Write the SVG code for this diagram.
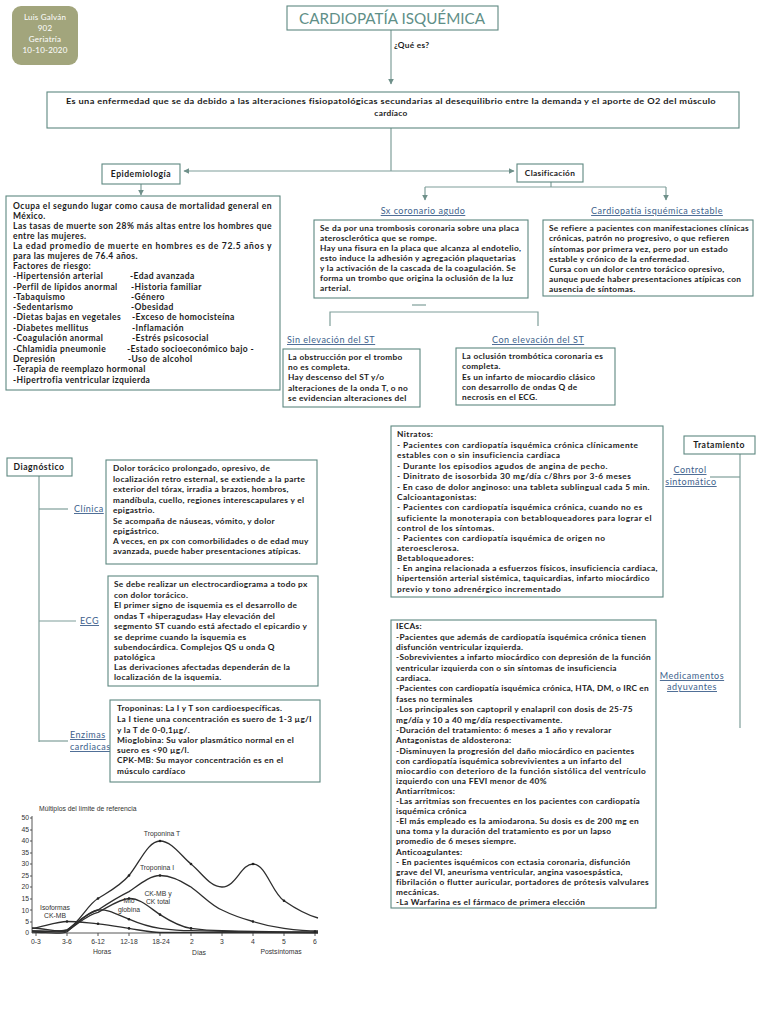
<svg xmlns="http://www.w3.org/2000/svg" width="768" height="1024" viewBox="0 0 768 1024">
<defs>
<style>
.box{fill:#fff;stroke:#5d8880;stroke-width:1.1}
.t{font-family:Lato,"Open Sans",sans-serif;font-size:8.3px;font-weight:700;fill:#1c1c1c;letter-spacing:0.3px}
.n{letter-spacing:0.45px}
.h{font-family:Lato,"Open Sans",sans-serif;font-size:8.5px;font-weight:700;fill:#1c1c1c;letter-spacing:0.4px}
.hd{font-family:Lato,"Open Sans",sans-serif;font-size:8.6px;font-weight:700;fill:#1c1c1c;letter-spacing:0.5px}
.lnk{font-family:Lato,"Open Sans",sans-serif;font-size:9px;font-weight:400;fill:#3d5f8c;text-decoration:underline;letter-spacing:0.5px}
.conn{stroke:#7f9e99;stroke-width:1.2;fill:none}
.ax{stroke:#444;stroke-width:0.9;fill:none}
.cv{stroke:#2e2e2e;stroke-width:1.3;fill:none}
.ct{font-family:"Liberation Sans",Arial,sans-serif;font-size:6.8px;fill:#333}
.w{font-family:Lato,"Open Sans",sans-serif;font-size:8px;fill:#fff;text-anchor:middle;letter-spacing:0.2px}
</style>
<marker id="arr" viewBox="0 0 10 10" refX="9" refY="5" markerWidth="5" markerHeight="5" orient="auto-start-reverse"><path d="M0,0 L10,5 L0,10 z" fill="#6f908a"/></marker>
</defs>
<rect width="768" height="1024" fill="#fff"/>

<g id="connectors">
<line class="conn" x1="391" y1="30" x2="391" y2="84" marker-end="url(#arr)"/>
<line class="conn" x1="391" y1="128" x2="391" y2="171"/>
<line class="conn" x1="184" y1="171" x2="514" y2="171" marker-start="url(#arr)" marker-end="url(#arr)"/>
<line class="conn" x1="141" y1="184" x2="141" y2="195" marker-end="url(#arr)"/>
<polyline class="conn" points="551,182 551,187"/>
<line class="conn" x1="425" y1="187" x2="666" y2="187"/>
<line class="conn" x1="425" y1="187" x2="425" y2="200" marker-end="url(#arr)"/>
<line class="conn" x1="666" y1="187" x2="666" y2="200" marker-end="url(#arr)"/>
<line class="conn" x1="412" y1="305" x2="426" y2="305"/>
<polyline class="conn" points="330,326 330,312 538,312 538,326"/>
<line class="conn" x1="39" y1="476" x2="39" y2="742"/>
<line class="conn" x1="39" y1="509" x2="68" y2="509"/>
<line class="conn" x1="39" y1="621" x2="76" y2="621"/>
<line class="conn" x1="39" y1="741" x2="68" y2="741"/>
<line class="conn" x1="740" y1="454" x2="740" y2="728"/>
<line class="conn" x1="710" y1="477" x2="740" y2="477"/>
</g>

<g id="autor">
<rect x="12" y="6" width="66" height="59" rx="9" fill="#a2a57c"/>
<text class="w" x="45" y="20">Luis Galván</text>
<text class="w" x="45" y="31">902</text>
<text class="w" x="45" y="42">Geriatría</text>
<text class="w" x="45" y="53">10-10-2020</text>
</g>

<g id="titulo">
<rect class="box" x="287" y="6" width="211" height="24"/>
<text x="392" y="24" text-anchor="middle" font-family="Lato,'Open Sans',sans-serif" font-size="14.5" fill="#5f8f88" textLength="186" lengthAdjust="spacingAndGlyphs">CARDIOPATÍA ISQUÉMICA</text>
</g>

<g id="que-es">
<text class="t" x="394" y="48" font-weight="400" font-size="8.5">¿Qué es?</text>
</g>

<g id="definicion">
<rect class="box" x="47" y="92" width="692" height="36"/>
<text class="t" x="391" y="104" text-anchor="middle" textLength="650" lengthAdjust="spacingAndGlyphs">Es una enfermedad que se da debido a las alteraciones fisiopatológicas secundarias al desequilibrio entre la demanda y el aporte de O2 del músculo</text>
<text class="t" x="391" y="116" text-anchor="middle">cardíaco</text>
</g>

<g id="epidemiologia">
<rect class="box" x="102" y="164" width="78" height="20"/>
<text class="hd" x="141" y="177" text-anchor="middle">Epidemiología</text>
</g>

<g id="epi-texto">
<rect class="box" x="6" y="196" width="274" height="194"/>
<text class="h" x="13" y="209" textLength="259" lengthAdjust="spacing">Ocupa el segundo lugar como causa de mortalidad general en</text>
<text class="h" x="13" y="219">México.</text>
<text class="h" x="13" y="229" textLength="259" lengthAdjust="spacing">Las tasas de muerte son 28% más altas entre los hombres que</text>
<text class="h" x="13" y="239">entre las mujeres.</text>
<text class="h" x="13" y="249" textLength="259" lengthAdjust="spacing">La edad promedio de muerte en hombres es de 72.5 años y</text>
<text class="h" x="13" y="259">para las mujeres de 76.4 años.</text>
<text class="h" x="13" y="269">Factores de riesgo:</text>
<text class="h" x="13" y="279">-Hipertensión arterial</text>
<text class="h" x="13" y="290">-Perfil de lípidos anormal</text>
<text class="h" x="13" y="300">-Tabaquismo</text>
<text class="h" x="13" y="310">-Sedentarismo</text>
<text class="h" x="13" y="320">-Dietas bajas en vegetales</text>
<text class="h" x="13" y="331">-Diabetes mellitus</text>
<text class="h" x="13" y="341">-Coagulación anormal</text>
<text class="h" x="13" y="352">-Chlamidia pneumonie</text>
<text class="h" x="13" y="362">Depresión</text>
<text class="h" x="13" y="372">-Terapia de reemplazo hormonal</text>
<text class="h" x="13" y="383">-Hipertrofia ventricular izquierda</text>
<text class="h" x="130" y="279">-Edad avanzada</text>
<text class="h" x="131" y="290">-Historia familiar</text>
<text class="h" x="131" y="300">-Género</text>
<text class="h" x="131" y="310">-Obesidad</text>
<text class="h" x="132" y="320">-Exceso de homocisteína</text>
<text class="h" x="132" y="331">-Inflamación</text>
<text class="h" x="132" y="341">-Estrés psicosocial</text>
<text class="h" x="127" y="352">-Estado socioeconómico bajo -</text>
<text class="h" x="128" y="362">-Uso de alcohol</text>
</g>

<g id="clasificacion">
<rect class="box" x="517" y="164" width="66" height="18"/>
<text class="t" x="550" y="176" text-anchor="middle">Clasificación</text>
</g>

<g id="sx-coronario">
<text class="lnk" x="423" y="214" text-anchor="middle">Sx coronario agudo</text>
<rect class="box" x="314" y="220" width="214" height="78"/>
<text class="t" x="320" y="231">Se da por una trombosis coronaria sobre una placa</text>
<text class="t" x="320" y="241">aterosclerótica que se rompe.</text>
<text class="t" x="320" y="251">Hay una fisura en la placa que alcanza al endotelio,</text>
<text class="t" x="320" y="261">esto induce la adhesión y agregación plaquetarias</text>
<text class="t" x="320" y="271">y la activación de la cascada de la coagulación. Se</text>
<text class="t" x="320" y="281">forma un trombo que origina la oclusión de la luz</text>
<text class="t" x="320" y="291">arterial.</text>
</g>

<g id="estable">
<text class="lnk" x="657" y="214" text-anchor="middle">Cardiopatía isquémica estable</text>
<rect class="box" x="543" y="220" width="210" height="76"/>
<text class="t" x="549" y="231">Se refiere a pacientes con manifestaciones clínicas</text>
<text class="t" x="549" y="241">crónicas, patrón no progresivo, o que refieren</text>
<text class="t" x="549" y="252">síntomas por primera vez, pero por un estado</text>
<text class="t" x="549" y="262">estable y crónico de la enfermedad.</text>
<text class="t" x="549" y="272">Cursa con un dolor centro torácico opresivo,</text>
<text class="t" x="549" y="282">aunque puede haber presentaciones atípicas con</text>
<text class="t" x="549" y="292">ausencia de síntomas.</text>
</g>

<g id="sin-elevacion">
<text class="lnk" x="287" y="343">Sin elevación del ST</text>
<rect class="box" x="283" y="349" width="137" height="58"/>
<text class="t" x="288" y="360">La obstrucción por el trombo</text>
<text class="t" x="288" y="370">no es completa.</text>
<text class="t" x="288" y="380">Hay descenso del ST y/o</text>
<text class="t" x="288" y="391">alteraciones de la onda T, o no</text>
<text class="t" x="288" y="401">se evidencian alteraciones del</text>
</g>

<g id="con-elevacion">
<text class="lnk" x="492" y="343">Con elevación del ST</text>
<rect class="box" x="456" y="348" width="159" height="57"/>
<text class="t" x="462" y="359">La oclusión trombótica coronaria es</text>
<text class="t" x="462" y="369">completa.</text>
<text class="t" x="462" y="380">Es un infarto de miocardio clásico</text>
<text class="t" x="462" y="390">con desarrollo de ondas Q de</text>
<text class="t" x="462" y="400">necrosis en el ECG.</text>
</g>

<g id="diagnostico">
<rect class="box" x="7" y="458" width="65" height="18"/>
<text class="hd" x="39" y="470" text-anchor="middle">Diagnóstico</text>
</g>

<g id="clinica">
<text class="lnk" x="74" y="512">Clínica</text>
<rect class="box" x="106" y="460" width="211" height="104"/>
<text class="t" x="113" y="471">Dolor torácico prolongado, opresivo, de</text>
<text class="t" x="113" y="482">localización retro esternal, se extiende a la parte</text>
<text class="t" x="113" y="492">exterior del tórax, irradia a brazos, hombros,</text>
<text class="t" x="113" y="503">mandíbula, cuello, regiones interescapulares y el</text>
<text class="t" x="113" y="513">epigastrio.</text>
<text class="t" x="113" y="524">Se acompaña de náuseas, vómito, y dolor</text>
<text class="t" x="113" y="534">epigástrico.</text>
<text class="t" x="113" y="544">A veces, en px con comorbilidades o de edad muy</text>
<text class="t" x="113" y="554">avanzada, puede haber presentaciones atípicas.</text>
</g>

<g id="ecg">
<text class="lnk" x="80" y="624">ECG</text>
<rect class="box" x="108" y="576" width="210" height="110"/>
<text class="t" x="114" y="587">Se debe realizar un electrocardiograma a todo px</text>
<text class="t" x="114" y="598">con dolor torácico.</text>
<text class="t" x="114" y="608">El primer signo de isquemia es el desarrollo de</text>
<text class="t" x="114" y="619">ondas T «hiperagudas» Hay elevación del</text>
<text class="t" x="114" y="629">segmento ST cuando está afectado el epicardio y</text>
<text class="t" x="114" y="640">se deprime cuando la isquemia es</text>
<text class="t" x="114" y="650">subendocárdica. Complejos QS u onda Q</text>
<text class="t" x="114" y="660">patológica</text>
<text class="t" x="114" y="670">Las derivaciones afectadas dependerán de la</text>
<text class="t" x="114" y="680">localización de la isquemia.</text>
</g>

<g id="enzimas">
<text class="lnk" x="70" y="738">Enzimas</text>
<text class="lnk" x="70" y="750">cardiacas</text>
<rect class="box" x="110" y="700" width="210" height="82"/>
<text class="t" x="117" y="711">Troponinas: La I y T son cardioespecíficas.</text>
<text class="t" x="117" y="722">La I tiene una concentración es suero de 1-3 µg/l</text>
<text class="t" x="117" y="733">y la T de 0-0,1µg/.</text>
<text class="t" x="117" y="743">Mioglobina: Su valor plasmático normal en el</text>
<text class="t" x="117" y="753">suero es &lt;90 µg/l.</text>
<text class="t" x="117" y="763">CPK-MB: Su mayor concentración es en el</text>
<text class="t" x="117" y="774">músculo cardíaco</text>
</g>

<g id="tratamiento">
<rect class="box" x="684" y="436" width="71" height="18"/>
<text class="hd" x="719" y="448" text-anchor="middle">Tratamiento</text>
<text class="lnk" x="690" y="473" text-anchor="middle">Control</text>
<text class="lnk" x="691" y="485" text-anchor="middle">sintomático</text>
<text class="lnk" x="692" y="679" text-anchor="middle">Medicamentos</text>
<text class="lnk" x="692" y="690" text-anchor="middle">adyuvantes</text>
</g>

<g id="control-sintomatico">
<rect class="box" x="391" y="426" width="272" height="171"/>
<g class="t n">
<text x="397" y="437">Nitratos:</text>
<text x="397" y="448">- Pacientes con cardiopatía isquémica crónica clínicamente</text>
<text x="397" y="458">estables con o sin insuficiencia cardiaca</text>
<text x="397" y="469">- Durante los episodios agudos de angina de pecho.</text>
<text x="397" y="479">- Dinitrato de isosorbida 30 mg/día c/8hrs por 3-6 meses</text>
<text x="397" y="490" textLength="253" lengthAdjust="spacing">- En caso de dolor anginoso: una tableta sublingual cada 5 min.</text>
<text x="397" y="500">Calcioantagonistas:</text>
<text x="397" y="510">- Pacientes con cardiopatía isquémica crónica, cuando no es</text>
<text x="397" y="521" textLength="255" lengthAdjust="spacing">suficiente la monoterapia con betabloqueadores para lograr el</text>
<text x="397" y="531">control de los síntomas.</text>
<text x="397" y="541">- Pacientes con cardiopatía isquémica de origen no</text>
<text x="397" y="551">ateroesclerosa.</text>
<text x="397" y="561">Betabloqueadores:</text>
<text x="397" y="571" textLength="261" lengthAdjust="spacing">- En angina relacionada a esfuerzos físicos, insuficiencia cardiaca,</text>
<text x="397" y="581" textLength="253" lengthAdjust="spacing">hipertensión arterial sistémica, taquicardias, infarto miocárdico</text>
<text x="397" y="592">previo y tono adrenérgico incrementado</text>
</g>
</g>

<g id="adyuvantes">
<rect class="box" x="391" y="620" width="265" height="288"/>
<text class="t" x="396" y="629">IECAs:</text>
<text class="t" x="396" y="640">-Pacientes que además de cardiopatía isquémica crónica tienen</text>
<text class="t" x="396" y="650">disfunción ventricular izquierda.</text>
<text class="t" x="396" y="660" textLength="255" lengthAdjust="spacing">-Sobrevivientes a infarto miocárdico con depresión de la función</text>
<text class="t" x="396" y="671">ventricular izquierda con o sin síntomas de insuficiencia</text>
<text class="t" x="396" y="681">cardiaca.</text>
<text class="t" x="396" y="691" textLength="253" lengthAdjust="spacing">-Pacientes con cardiopatía isquémica crónica, HTA, DM, o IRC en</text>
<text class="t" x="396" y="702">fases no terminales</text>
<text class="t" x="396" y="712">-Los principales son captopril y enalapril con dosis de 25-75</text>
<text class="t" x="396" y="723">mg/día y 10 a 40 mg/día respectivamente.</text>
<text class="t" x="396" y="733">-Duración del tratamiento: 6 meses a 1 año y revalorar</text>
<text class="t" x="396" y="743">Antagonistas de aldosterona:</text>
<text class="t" x="396" y="754">-Disminuyen la progresión del daño miocárdico en pacientes</text>
<text class="t" x="396" y="764">con cardiopatía isquémica sobrevivientes a un infarto del</text>
<text class="t" x="396" y="774" textLength="250" lengthAdjust="spacing">miocardio con deterioro de la función sistólica del ventrículo</text>
<text class="t" x="396" y="784">izquierdo con una FEVI menor de 40%</text>
<text class="t" x="396" y="794">Antiarrítmicos:</text>
<text class="t" x="396" y="804">-Las arritmias son frecuentes en los pacientes con cardiopatía</text>
<text class="t" x="396" y="814">isquémica crónica</text>
<text class="t" x="396" y="824">-El más empleado es la amiodarona. Su dosis es de 200 mg en</text>
<text class="t" x="396" y="834">una toma y la duración del tratamiento es por un lapso</text>
<text class="t" x="396" y="844">promedio de 6 meses siempre.</text>
<text class="t" x="396" y="855">Anticoagulantes:</text>
<text class="t" x="396" y="865">- En pacientes isquémicos con ectasia coronaria, disfunción</text>
<text class="t" x="396" y="875">grave del VI, aneurisma ventricular, angina vasoespástica,</text>
<text class="t" x="396" y="885" textLength="253" lengthAdjust="spacing">fibrilación o flutter auricular, portadores de prótesis valvulares</text>
<text class="t" x="396" y="895">mecánicas.</text>
<text class="t" x="396" y="905">-La Warfarina es el fármaco de primera elección</text>
</g>

<g id="grafica">
<text class="ct" x="39" y="811">Múltiplos del límite de referencia</text>
<path class="ax" d="M32,816 V933 H318"/>
<g class="ct" text-anchor="end">
<text x="29" y="820">50</text><text x="29" y="832">45</text><text x="29" y="843">40</text><text x="29" y="855">35</text><text x="29" y="866">30</text><text x="29" y="878">25</text><text x="29" y="889">20</text><text x="29" y="901">15</text><text x="29" y="913">10</text><text x="29" y="924">5</text><text x="29" y="935">0</text>
</g>
<path class="ax" d="M30,818H32M30,830H32M30,841H32M30,853H32M30,864H32M30,876H32M30,887H32M30,899H32M30,910H32M30,922H32M36,933V936M67,933V936M98,933V936M129,933V936M160,933V936M191,933V936M222,933V936M253,933V936M284,933V936M315,933V936"/>
<g class="ct" text-anchor="middle">
<text x="36" y="944">0-3</text><text x="67" y="944">3-6</text><text x="98" y="944">6-12</text><text x="129" y="944">12-18</text><text x="161" y="944">18-24</text><text x="192" y="944">2</text><text x="222" y="944">3</text><text x="253" y="944">4</text><text x="284" y="944">5</text><text x="315" y="944">6</text>
<text x="102" y="954">Horas</text><text x="199" y="955">Días</text><text x="281" y="954">Postsíntomas</text>
<text x="162" y="836">Troponina T</text>
<text x="157" y="870">Troponina I</text>
<text x="158" y="896">CK-MB y</text>
<text x="158" y="904">CK total</text>
<text x="129" y="903">Mio</text>
<text x="129" y="912">globina</text>
<text x="55" y="910">Isoformas</text>
<text x="55" y="918">CK-MB</text>
</g>
<path class="cv" d="M32,928 C45,928 58,933 67,930 C80,922 88,904 98,898.5 C110,891 120,886 129,875.5 C140,862 148,841 160,841 C172,841 182,857 191,864 C202,873 210,887 222,887 C236,887 241,864 253,864 C266,864 272,893 284,900.8 C296,909 306,915 318,918"/>
<path class="cv" d="M32,931 C45,931 58,932 67,930 C78,922 88,912 98,910 C110,902 120,896 129,891.6 C140,884 150,875.5 160,875.5 C172,875.5 182,882 191,887 C202,895 212,906 222,910 C234,916 244,919 253,921.5 C264,925 274,927 284,928.4 C296,930 306,931 318,931"/>
<path class="cv" d="M32,931 C45,931 58,933 67,931 C78,924 88,914 98,912.3 C110,906 120,899 129,898.5 C140,898 150,908 160,914.6 C170,921 182,927 191,928.4 C202,930 212,930.7 222,930.7 C250,931.5 290,932 318,932"/>
<path class="cv" d="M32,932 C45,932 58,935 67,932 C78,922 90,911 98,910 C106,909 112,912 129,919.2 C140,924 150,927 160,928.4 C172,930 182,930.7 191,930.7 C240,932 290,932.5 318,932.5"/>
<path class="cv" d="M32,928.5 C45,926 58,921.5 67,921.5 C78,921.5 88,923 98,923.8 C110,925 120,927 129,928.4 C140,930 150,932.5 160,932.5 L318,932.8"/>
<g fill="#222">
<circle cx="67" cy="921.5" r="1.3"/><circle cx="98" cy="898.5" r="1.3"/><circle cx="129" cy="875.5" r="1.3"/><circle cx="160" cy="841" r="1.3"/><circle cx="191" cy="864" r="1.3"/><circle cx="253" cy="864" r="1.3"/><circle cx="284" cy="900.8" r="1.3"/>
<circle cx="160" cy="875.5" r="1.3"/><circle cx="129" cy="898.5" r="1.3"/><circle cx="160" cy="914.6" r="1.3"/><circle cx="129" cy="919.2" r="1.3"/><circle cx="98" cy="923.8" r="1.3"/><circle cx="129" cy="928.4" r="1.3"/><circle cx="253" cy="921.5" r="1.3"/><circle cx="191" cy="928.4" r="1.3"/><circle cx="315" cy="931.5" r="1.3"/>
</g>
</g>
</svg>
